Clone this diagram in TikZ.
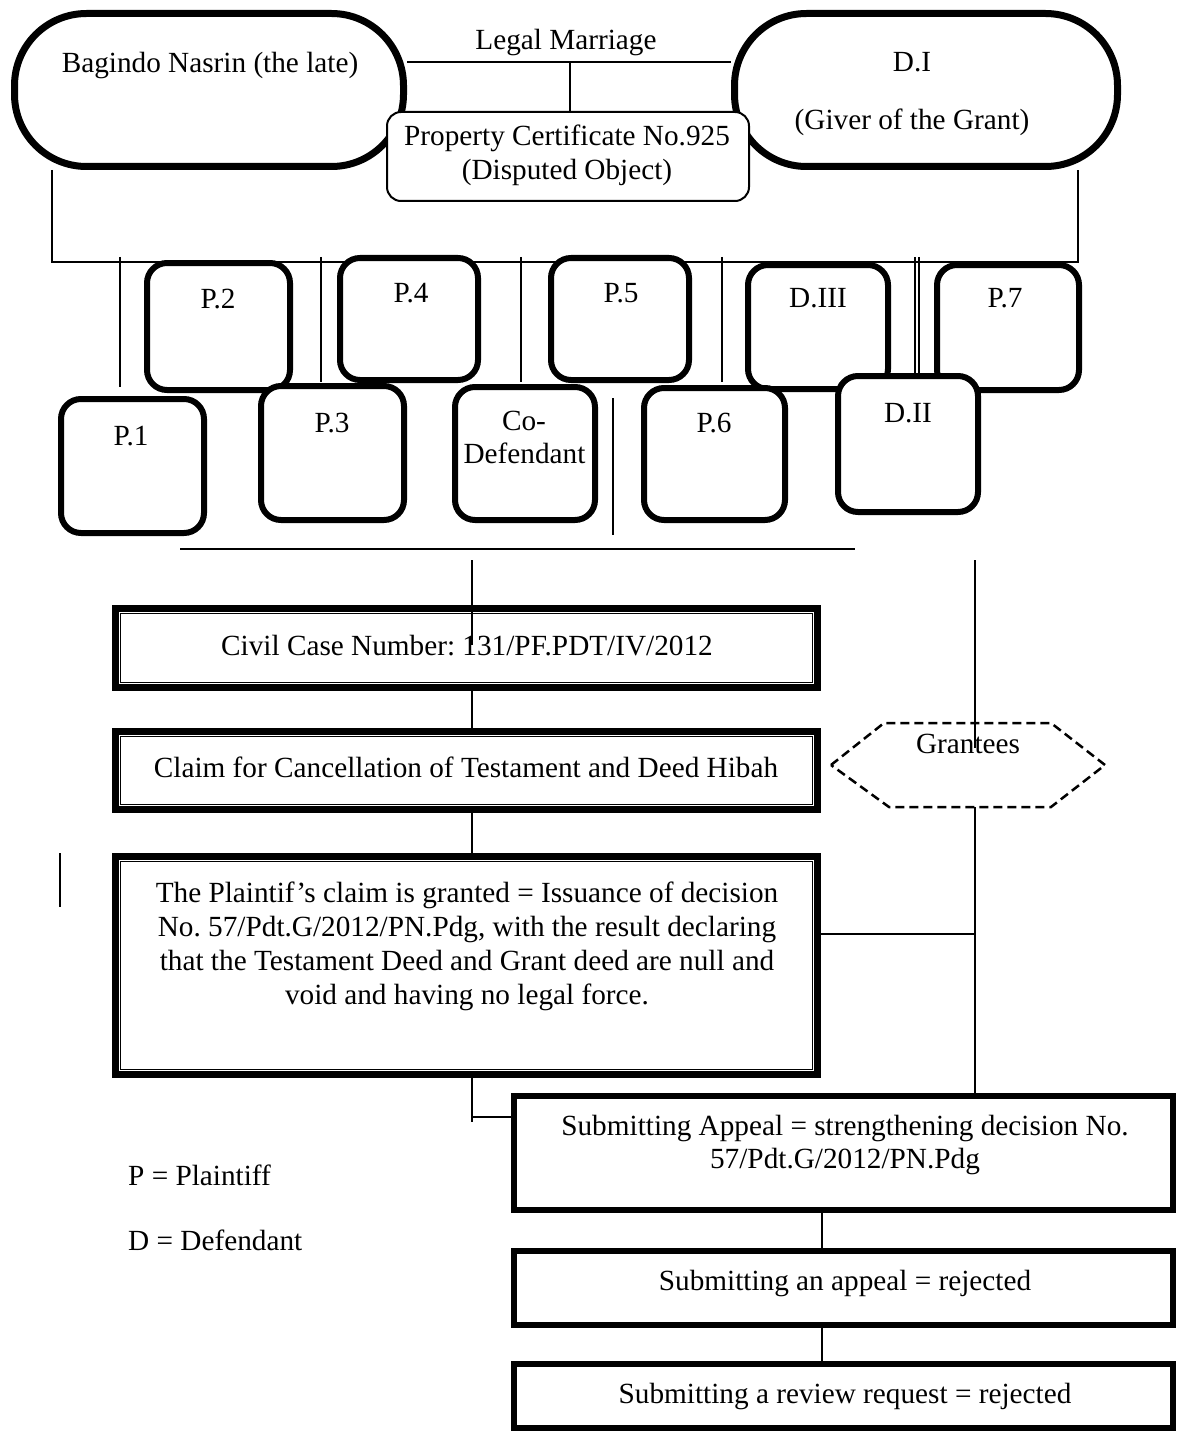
\documentclass[tikz,border=0pt]{standalone}
\usepackage{fontspec}
\setmainfont{Liberation Serif}
\frenchspacing
\newcommand\fz{\fontsize{29.25pt}{35pt}\selectfont\frenchspacing}
\tikzset{
  every node/.style={font=\fz},
  bigbox/.style={draw, line width=7pt, rounded corners=72pt, fill=white, inner sep=0pt},
  propbox/.style={draw, line width=2pt, rounded corners=14pt, fill=white, inner sep=0pt},
  pbox/.style={draw, line width=6pt, rounded corners=20pt, fill=white, inner sep=0pt},
  dbox/.style={draw, line width=7pt, fill=white, inner sep=0pt, minimum width=702pt},
  inner/.style={line width=1.5pt},
  sbox/.style={draw, line width=6pt, fill=white, inner sep=0pt, minimum width=659pt},
  conn/.style={line width=1.3pt},
  connb/.style={line width=2pt},
  hexs/.style={line width=2.5pt, dash pattern=on 9pt off 5pt},
  txt/.style={anchor=base, inner sep=0pt},
  ltxt/.style={anchor=base west, inner sep=0pt}
}
\begin{document}
\begin{tikzpicture}[x=1pt,y=-1pt]
\useasboundingbox (0,0) rectangle (1176,1431);
\fill[white] (0,0) rectangle (1176,1431);

% top parents
\node[bigbox, minimum width=389pt, minimum height=153pt] (bag) at (209,90) {};
\node[bigbox, minimum width=383pt, minimum height=153pt] (di) at (926,90) {};
\coordinate (m) at (570,62);
\draw[conn] (bag.east |- m) -- (di.west |- m);
\draw[conn] (m) -- (570,112) coordinate (mb);
\node[propbox, minimum width=362pt, minimum height=89pt] (prop) at (568,156.5) {};
\node[txt] (lm) at (566,50) {Legal Marriage};
\node[txt] (bagt) at (210,73) {Bagindo Nasrin (the late)};
\node[txt] (dit1) at (912,72) {D.I};
\node[txt] (dit2) at (912,130) {(Giver of the Grant)};
\node[txt] (propt1) at (567,146) {Property Certificate No.925};
\node[txt] (propt2) at (567,180) {(Disputed Object)};

% frame to children
\coordinate (hl) at (52,262);
\coordinate (hr) at (1078,262);
\draw[conn] (bag.south -| hl) -- (hl) -- (hr) -- (hr |- di.south);
\draw[conn] (120,257) coordinate (d1a) -- (120,387) coordinate (d1b);
\draw[conn] (321,257) coordinate (d2a) -- (321,382) coordinate (d2b);
\draw[conn] (521,257) coordinate (d3a) -- (521,382) coordinate (d3b);
\draw[conn] (722,257) coordinate (d4a) -- (722,382) coordinate (d4b);
\draw[conn] (915,257) coordinate (d5a) -- (915,374) coordinate (d5b);
\draw[conn] (919,257) coordinate (d6a) -- (919,374) coordinate (d6b);

% row 1
\node[pbox, minimum width=143pt, minimum height=127pt] (p2) at (218.5,326.5) {};
\node[pbox, minimum width=138pt, minimum height=122pt] (p4) at (409,319) {};
\node[pbox, minimum width=138pt, minimum height=122pt] (p5) at (620,319) {};
\node[pbox, minimum width=140pt, minimum height=124pt] (d3) at (818,327) {};
\node[pbox, minimum width=142pt, minimum height=125pt] (p7) at (1008,327.5) {};
\node[txt] at (218,308) {P.2};
\node[txt] at (411,302) {P.4};
\node[txt] at (621,302) {P.5};
\node[txt] at (818,307) {D.III};
\node[txt] at (1005,307) {P.7};

% row 2
\node[pbox, minimum width=143pt, minimum height=134pt] (p1) at (132.5,466) {};
\node[pbox, minimum width=143pt, minimum height=134pt] (p3) at (332.5,453) {};
\node[pbox, minimum width=140pt, minimum height=133pt] (cod) at (525,453.5) {};
\node[pbox, minimum width=141pt, minimum height=132pt] (p6) at (714.5,454) {};
\node[pbox, minimum width=140pt, minimum height=136pt] (d2) at (908,444) {};
\node[txt] at (131,445) {P.1};
\node[txt] at (332,432) {P.3};
\node[txt] at (524,430) {Co-};
\node[txt] at (524.5,463) {Defendant};
\node[txt] at (714,432) {P.6};
\node[txt] at (908,422) {D.II};

\draw[conn] (613,398) coordinate (va) -- (613,535) coordinate (vb);
\draw[connb] (180,549) coordinate (ha) -- (855,549) coordinate (hb);

% left column
\node[dbox, minimum height=79pt] (civ) at (466.5,648) {};
\node[dbox, minimum height=78pt] (claim) at (466.5,770.5) {};
\node[dbox, minimum height=218pt] (pl) at (466.5,965.5) {};
\foreach \n in {civ,claim,pl}
  \draw[inner] ([shift={(8.5,8.5)}]\n.north west) rectangle ([shift={(-8.5,-8.5)}]\n.south east);
\node[txt] at (467,655) {Civil Case Number: 131/PF.PDT/IV/2012};
\node[txt] at (466,777) {Claim for Cancellation of Testament and Deed Hibah};
\node[txt] at (467,902) {The Plaintif’s claim is granted = Issuance of decision};
\node[txt] at (467,936) {No. 57/Pdt.G/2012/PN.Pdg, with the result declaring};
\node[txt] at (467,970) {that the Testament Deed and Grant deed are null and};
\node[txt] at (467,1004) {void and having no legal force.};

% grantees
\draw[hexs] (831,765) -- (884,723) -- (1051,723) -- (1105,765) -- (1051,807) -- (889,807) -- cycle;
\coordinate (gb) at (975,807);
\node[txt] (gt) at (968,753) {Grantees};

% right column boxes
\node[sbox, minimum height=114pt] (ap) at (843.5,1153) {};
\node[sbox, minimum height=74pt] (rj) at (843.5,1288) {};
\node[sbox, minimum height=64pt] (rv) at (843.5,1396) {};
\node[txt] at (845,1135) {Submitting Appeal = strengthening decision No.};
\node[txt] at (845,1168) {57/Pdt.G/2012/PN.Pdg};
\node[txt] at (845,1290) {Submitting an appeal = rejected};
\node[txt] at (845,1403) {Submitting a review request = rejected};

% connectors
\coordinate (t1) at (472,560);
\draw[conn] (t1) -- (472,645) coordinate (t1e);
\draw[conn] (civ.south -| t1) -- (claim.north -| t1);
\draw[conn] (claim.south -| t1) -- (pl.north -| t1);
\coordinate (k) at (472,1117);
\draw[conn] (pl.south -| t1) -- (472,1122) coordinate (ke);
\draw[connb] (k) -- (ap.west |- k);
\coordinate (g1) at (975,560);
\draw[conn] (g1) -- (975,748) coordinate (g1e);
\draw[conn] (gb) -- (ap.north -| gb);
\coordinate (gm) at (975,934);
\draw[conn] (pl.east |- gm) -- (gm);
\coordinate (v) at (822,1200);
\draw[conn] (ap.south -| v) -- (rj.north -| v);
\draw[conn] (rj.south -| v) -- (rv.north -| v);

% legend and stray mark
\node[ltxt] (lp) at (128,1185) {P = Plaintiff};
\node[ltxt] (ld) at (128,1250) {D = Defendant};
\draw[connb] (60,853) coordinate (sa) -- (60,907) coordinate (sb);
\end{tikzpicture}
\end{document}
